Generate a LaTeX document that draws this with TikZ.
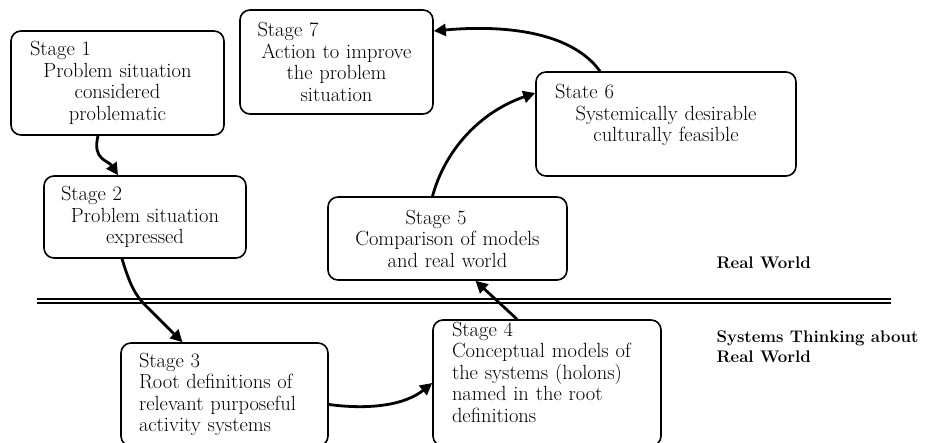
\documentclass[tikz,border=0pt]{standalone}
\usepackage{tikz}
\usetikzlibrary{positioning,arrows.meta}
\newcommand{\stagehead}[2]{\makebox[\hsize][l]{\hspace*{#1}#2}}

\begin{document}
\begin{tikzpicture}[
    x=1pt, y=-1pt,
    stage/.style={draw, rounded corners=10pt, line width=1.6pt, inner sep=0pt,
        align=center, font=\fontsize{20.5}{21.5}\selectfont},
    flow/.style={-{Triangle[length=12pt,width=12pt]}, line width=2.8pt},
    zone/.style={font=\fontsize{16.8}{20}\selectfont\bfseries, align=left, anchor=west}
]
    \useasboundingbox (0,0) rectangle (925,443);

    % Stages above the line (real world)
    \node[stage, minimum width=213pt, minimum height=104pt, text width=190pt] (s1) at (117.5,83)
        {\stagehead{7.5pt}{Stage 1}\\ Problem situation\\ considered\\ problematic};
    \node[stage, minimum width=202pt, minimum height=82pt, text width=180pt] (s2) at (145,217)
        {\stagehead{6pt}{Stage 2}\\ Problem situation\\ expressed};
    \node[stage, minimum width=239pt, minimum height=83pt, text width=210pt] (s5) at (447.5,238.5)
        {\stagehead{63pt}{Stage 5}\\ Comparison of models\\ and real world};
    \node[stage, minimum width=260pt, minimum height=104pt, text width=230pt] (s6) at (666,124)
        {\stagehead{4pt}{State 6}\\ Systemically desirable\\ culturally feasible\\ \mbox{}};
    \node[stage, minimum width=193pt, minimum height=104pt, text width=180pt] (s7) at (336.5,62)
        {\stagehead{11pt}{Stage 7}\\ Action to improve\\ the problem\\ situation};

    % Stages below the line (systems thinking)
    \node[stage, align=left, minimum width=207pt, minimum height=103pt, text width=171pt] (s3) at (224.5,394.5)
        {Stage 3\\ Root definitions of\\ relevant purposeful\\ activity systems};
    \node[stage, align=left, minimum width=228pt, minimum height=126pt, text width=190pt] (s4) at (547,383)
        {Stage 4\\ Conceptual models of\\ the systems (holons)\\ named in the root\\ definitions\\ \mbox{}};

    % Divider between the two worlds
    \coordinate (divl) at (37,301);
    \coordinate (divr) at (891,301);
    \draw[double, double distance=2.4pt, line width=2pt] (divl) -- (divr);

    \node[zone] (rw) at (713,263) {Real World};
    \node[zone] (stw) at (713,347) {Systems Thinking about\\ Real World};

    % The cycle
    \draw[flow] ([xshift=-19.5pt]s1.south) .. controls (92,160) and (108,160) .. ([xshift=-27pt]s2.north);
    \draw[flow] ([xshift=-23pt]s2.south) .. controls (130,285) and (135,295) .. (146,306) -- ([xshift=-42pt]s3.north);
    \draw[flow] ([yshift=-10pt]s3.east) .. controls (370,410) and (405,405) .. (s4.west);
    \draw[flow] ([xshift=-30pt]s4.north) -- ([xshift=28pt]s5.south);
    \draw[flow] ([xshift=-15pt]s5.north) .. controls (445,150) and (480,112) .. ([yshift=31pt]s6.west);
    \draw[flow] ([xshift=-66pt]s6.north) .. controls (570,30) and (500,25) .. ([yshift=31pt]s7.east);
\end{tikzpicture}
\end{document}
